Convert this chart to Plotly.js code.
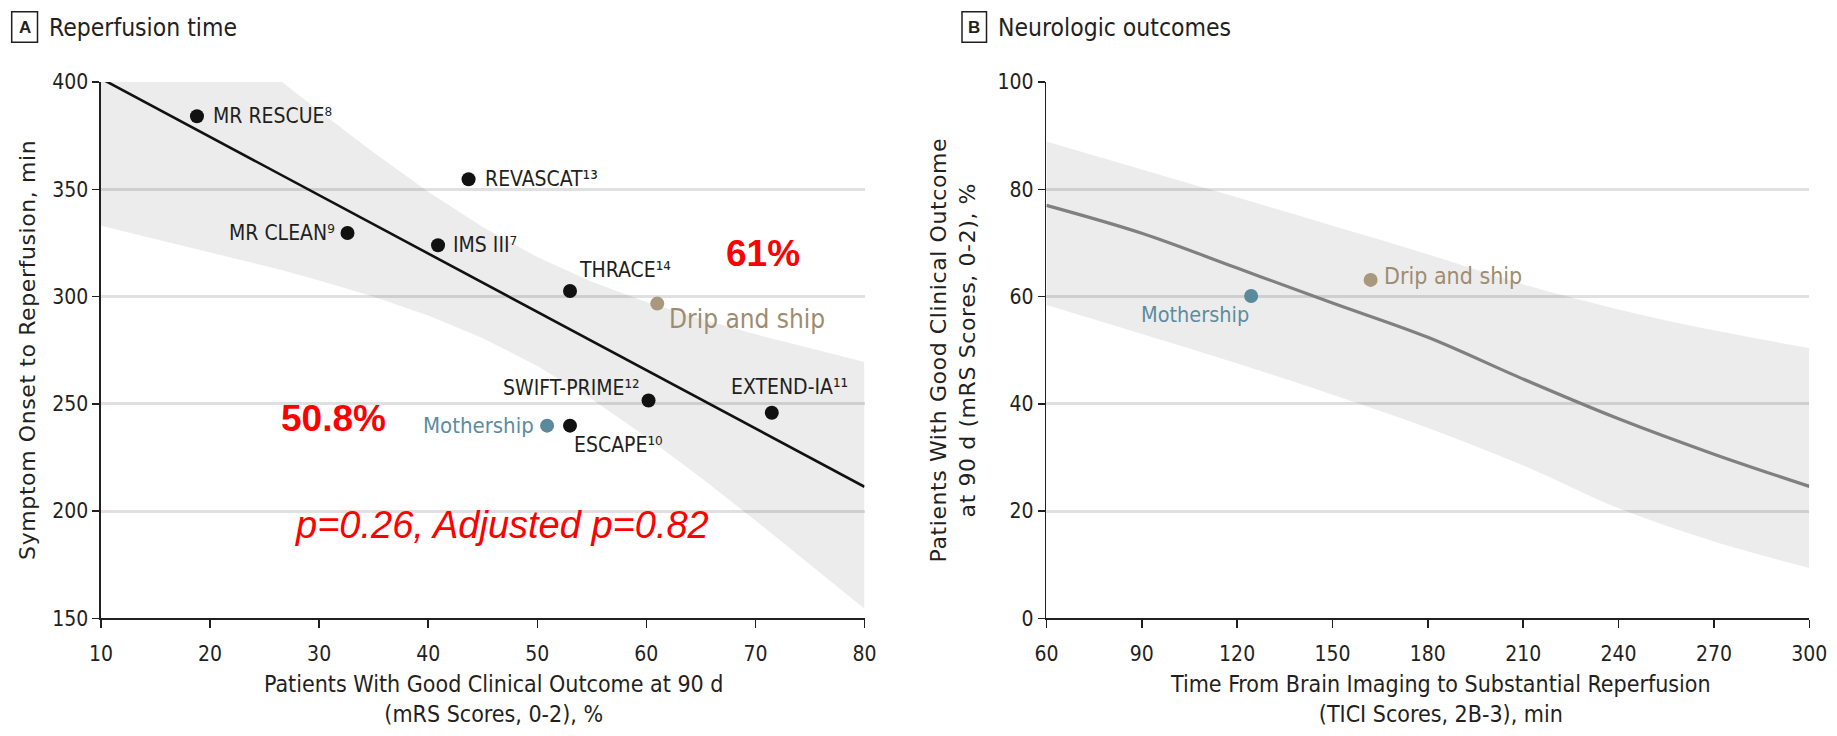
<!DOCTYPE html>
<html>
<head>
<meta charset="utf-8">
<script src="https://cdn.plot.ly/plotly-3.0.1.min.js"></script>
<style>
  html, body { margin: 0; padding: 0; background: #ffffff; }
  #chart { width: 1837px; height: 736px; }
  g.annotation[data-index="0"] text, g.annotation[data-index="1"] text { letter-spacing: 0.6px; }
</style>
</head>
<body>
<div id="chart"></div>
<script>
// ---------------- Panel A data ----------------
const trialNames = ["MR RESCUE", "REVASCAT", "MR CLEAN", "IMS III", "THRACE", "SWIFT-PRIME", "EXTEND-IA", "ESCAPE"];
const trialRefs = ["8", "13", "9", "7", "14", "12", "11", "10"];
const trialGoodOutcome = [18.8, 43.7, 32.6, 40.9, 53.0, 60.2, 71.5, 53.0];
const trialOnsetToReperfusion = [384.0, 354.7, 329.6, 323.9, 302.6, 251.5, 245.8, 239.8];

const groupNames = ["Mothership", "Drip and ship"];
const groupGoodOutcomeA = [50.9, 61.0];
const groupOnsetToReperfusionA = [239.8, 296.7];

const fitX_A = [10, 80];
const fitY_A = [401.6, 211.3];

const bandX_A = [10, 26.6, 30, 35, 40, 45, 50, 55, 60, 65, 70, 75, 80];
const bandUpper_A = [400, 400, 386.5, 367.1, 348.8, 332.4, 318.4, 306.9, 297.5, 289.5, 282.4, 275.8, 269.5];
const bandLower_A = [333.0, 312.3, 307.5, 299.9, 291.2, 280.6, 267.6, 252.1, 234.5, 215.5, 195.6, 175.2, 154.5];

const pctLabels = ["61%", "50.8%"];
const pctX = [70.66, 31.34];
const pctY = [320.1, 243.2];
const pText = "p=0.26, Adjusted p=0.82";
const pTextX = 46.75, pTextY = 193.5;

const xTicksA = [10, 20, 30, 40, 50, 60, 70, 80];
const yTicksA = [150, 200, 250, 300, 350, 400];

// ---------------- Panel B data ----------------
const timeB = [60, 90, 120, 150, 180, 210, 240, 270, 300];
const fitB = [77.0, 71.8, 65.3, 58.8, 52.4, 44.6, 37.2, 30.6, 24.6];
const upperB = [88.9, 83.7, 78.5, 73.2, 67.9, 62.3, 57.6, 53.7, 50.4];
const lowerB = [58.4, 53.0, 47.5, 41.7, 35.5, 28.5, 20.5, 14.3, 9.4];

const groupTimeB = [124.4, 162.0];
const groupGoodOutcomeB = [60.1, 63.1];

const xTicksB = [60, 90, 120, 150, 180, 210, 240, 270, 300];
const yTicksB = [0, 20, 40, 60, 80, 100];

// ---------------- Styling ----------------
const W = 1837, H = 736;
const FONT_N = "'Liberation Sans Narrow', 'Arial Narrow', 'DejaVu Sans Condensed', sans-serif";
const FONT_W = "'DejaVu Sans', Verdana, sans-serif";
const FONT_R = "'Liberation Sans', Arial, sans-serif";
const TXT = "#231f20";
const BAND = "rgba(0,0,0,0.075)";
const GRID = "#e0e0e0";
const MOTHER = "#5a8a9b";
const DRIP = "#a8987d";
const groupColors = [MOTHER, DRIP];
const groupTextColors = ["#5b8c9f", "#9e8c70"];
const groupFontA = [22, 26];
const groupFontB = [21.5, 23];

const SUP = {"0": "\u2070", "1": "\u00B9", "2": "\u00B2", "3": "\u00B3", "4": "\u2074",
             "5": "\u2075", "6": "\u2076", "7": "\u2077", "8": "\u2078", "9": "\u2079"};
const toSup = s => s.split("").map(c => SUP[c]).join("");

const px = v => v / W;
const py = v => 1 - v / H;

// label placement (style only): anchor, x shift, y shift in px
const trialLabelPos = [
  {a: "left", dx: 14, dy: 0},
  {a: "left", dx: 14, dy: 0},
  {a: "right", dx: -11, dy: 0},
  {a: "left", dx: 13, dy: 0},
  {a: "left", dx: 7, dy: 21},
  {a: "right", dx: -7, dy: 13},
  {a: "center", dx: 18, dy: 26},
  {a: "left", dx: 2, dy: -19}
];
const groupLabelPosA = [{a: "right", dx: -11, dy: 0}, {a: "left", dx: 10, dy: -15}];
const groupLabelPosB = [{a: "right", dx: 0, dy: -19}, {a: "left", dx: 11, dy: 4}];

const traces = [
  // Panel A band
  {x: bandX_A, y: bandLower_A, xaxis: "x", yaxis: "y", mode: "lines", line: {width: 0}, hoverinfo: "skip", showlegend: false},
  {x: bandX_A, y: bandUpper_A, xaxis: "x", yaxis: "y", mode: "lines", line: {width: 0}, fill: "tonexty", fillcolor: BAND, hoverinfo: "skip", showlegend: false},
  // Panel A regression line
  {x: fitX_A, y: fitY_A, xaxis: "x", yaxis: "y", mode: "lines", line: {color: "#111111", width: 2.6}, showlegend: false},
  // trials
  {x: trialGoodOutcome, y: trialOnsetToReperfusion, xaxis: "x", yaxis: "y", mode: "markers",
   marker: {color: "#111111", size: 14}, showlegend: false},
  // groups A
  {x: groupGoodOutcomeA, y: groupOnsetToReperfusionA, xaxis: "x", yaxis: "y", mode: "markers",
   marker: {color: groupColors, size: 14}, showlegend: false},
  // Panel B band
  {x: timeB, y: lowerB, xaxis: "x2", yaxis: "y2", mode: "lines", line: {width: 0, shape: "spline"}, hoverinfo: "skip", showlegend: false},
  {x: timeB, y: upperB, xaxis: "x2", yaxis: "y2", mode: "lines", line: {width: 0, shape: "spline"}, fill: "tonexty", fillcolor: BAND, hoverinfo: "skip", showlegend: false},
  {x: timeB, y: fitB, xaxis: "x2", yaxis: "y2", mode: "lines", line: {color: "#808080", width: 3.2, shape: "spline"}, showlegend: false},
  {x: groupTimeB, y: groupGoodOutcomeB, xaxis: "x2", yaxis: "y2", mode: "markers",
   marker: {color: groupColors, size: 14}, showlegend: false}
];

const annotations = [
  // 0,1: y-axis titles (letter-spaced via CSS)
  {text: "Symptom Onset to Reperfusion, min", xref: "paper", yref: "paper", x: px(27), y: py(350),
   xanchor: "center", yanchor: "middle", textangle: -90, showarrow: false,
   font: {family: FONT_W, size: 22, color: TXT}},
  {text: "Patients With Good Clinical Outcome<br>at 90 d (mRS Scores, 0-2), %", xref: "paper", yref: "paper",
   x: px(953), y: py(350), xanchor: "center", yanchor: "middle", textangle: -90, showarrow: false,
   font: {family: FONT_W, size: 22, color: TXT}},
  // x-axis titles
  {text: "Patients With Good Clinical Outcome at 90 d<br>(mRS Scores, 0-2), %", xref: "paper", yref: "paper",
   x: px(493), y: py(699), xanchor: "center", yanchor: "middle", showarrow: false,
   font: {family: FONT_N, size: 23, color: TXT}},
  {text: "Time From Brain Imaging to Substantial Reperfusion<br>(TICI Scores, 2B-3), min", xref: "paper", yref: "paper",
   x: px(1440), y: py(699), xanchor: "center", yanchor: "middle", showarrow: false,
   font: {family: FONT_N, size: 23, color: TXT}},
  // panel titles
  {text: "A", xref: "paper", yref: "paper", x: px(24.6), y: py(27), xanchor: "center", yanchor: "middle",
   showarrow: false, font: {family: FONT_R, size: 17, weight: "bold", color: TXT}},
  {text: "Reperfusion time", xref: "paper", yref: "paper", x: px(47), y: py(27), xanchor: "left", yanchor: "middle",
   showarrow: false, font: {family: FONT_N, size: 24.5, color: TXT}},
  {text: "B", xref: "paper", yref: "paper", x: px(974.2), y: py(27), xanchor: "center", yanchor: "middle",
   showarrow: false, font: {family: FONT_R, size: 17, weight: "bold", color: TXT}},
  {text: "Neurologic outcomes", xref: "paper", yref: "paper", x: px(996), y: py(27), xanchor: "left", yanchor: "middle",
   showarrow: false, font: {family: FONT_N, size: 24.5, color: TXT}}
];

// trial labels
trialNames.forEach((n, i) => {
  const p = trialLabelPos[i];
  annotations.push({text: n + toSup(trialRefs[i]), xref: "x", yref: "y",
    x: trialGoodOutcome[i], y: trialOnsetToReperfusion[i], xanchor: p.a, yanchor: "middle",
    xshift: p.dx, yshift: p.dy, showarrow: false, font: {family: FONT_N, size: 21, color: TXT}});
});
// group labels A and B
groupNames.forEach((n, i) => {
  const pa = groupLabelPosA[i];
  annotations.push({text: n, xref: "x", yref: "y", x: groupGoodOutcomeA[i], y: groupOnsetToReperfusionA[i],
    xanchor: pa.a, yanchor: "middle", xshift: pa.dx, yshift: pa.dy, showarrow: false,
    font: {family: FONT_N, size: groupFontA[i], color: groupTextColors[i]}});
  const pb = groupLabelPosB[i];
  annotations.push({text: n, xref: "x2", yref: "y2", x: groupTimeB[i], y: groupGoodOutcomeB[i],
    xanchor: pb.a, yanchor: "middle", xshift: pb.dx, yshift: pb.dy, showarrow: false,
    font: {family: FONT_N, size: groupFontB[i], color: groupTextColors[i]}});
});
// red percentages
pctLabels.forEach((t, i) => {
  annotations.push({text: t, xref: "x", yref: "y", x: pctX[i], y: pctY[i],
    xanchor: "center", yanchor: "middle", showarrow: false,
    font: {family: FONT_R, size: 37, weight: "bold", color: "#ff0000"}});
});
annotations.push({text: pText, xref: "x", yref: "y", x: pTextX, y: pTextY,
  xanchor: "center", yanchor: "middle", showarrow: false,
  font: {family: FONT_R, size: 38, style: "italic", color: "#ff0000"}});

const boxShapes = [
  {type: "rect", xref: "paper", yref: "paper", x0: px(11.7), x1: px(37.5), y0: py(42.2), y1: py(11.7),
   line: {color: TXT, width: 1.5}, fillcolor: "rgba(0,0,0,0)"},
  {type: "rect", xref: "paper", yref: "paper", x0: px(962), x1: px(986.5), y0: py(42.2), y1: py(11.7),
   line: {color: TXT, width: 1.5}, fillcolor: "rgba(0,0,0,0)"}
];

const axisCommon = {
  showline: true, linecolor: TXT, linewidth: 1.6, ticks: "outside", tickcolor: TXT, tickwidth: 1.5,
  zeroline: false, fixedrange: true, automargin: false,
  tickfont: {family: FONT_N, size: 21, color: TXT}
};
const yDomain = [1 - 618.3 / H, 1 - 82 / H];

const layout = {
  width: W, height: H,
  margin: {l: 0, r: 0, t: 0, b: 0},
  paper_bgcolor: "#ffffff", plot_bgcolor: "rgba(0,0,0,0)",
  showlegend: false,
  xaxis: Object.assign({}, axisCommon, {domain: [101 / W, 864.5 / W], range: [10, 80], tickvals: xTicksA,
    ticklen: 8, showgrid: false, anchor: "y", ticklabelstandoff: 8}),
  yaxis: Object.assign({}, axisCommon, {domain: yDomain, range: [150, 400], tickvals: yTicksA,
    ticklen: 7, showgrid: true, gridcolor: GRID, gridwidth: 3, anchor: "x", ticklabelstandoff: 0}),
  xaxis2: Object.assign({}, axisCommon, {domain: [1046.4 / W, 1809.3 / W], range: [60, 300], tickvals: xTicksB,
    ticklen: 8, showgrid: false, anchor: "y2", ticklabelstandoff: 8}),
  yaxis2: Object.assign({}, axisCommon, {domain: yDomain, range: [0, 100], tickvals: yTicksB,
    ticklen: 7, showgrid: true, gridcolor: GRID, gridwidth: 3, anchor: "x2", ticklabelstandoff: 0}),
  annotations: annotations,
  shapes: boxShapes
};

Plotly.newPlot("chart", traces, layout, {displayModeBar: false, staticPlot: true});
</script>
</body>
</html>
